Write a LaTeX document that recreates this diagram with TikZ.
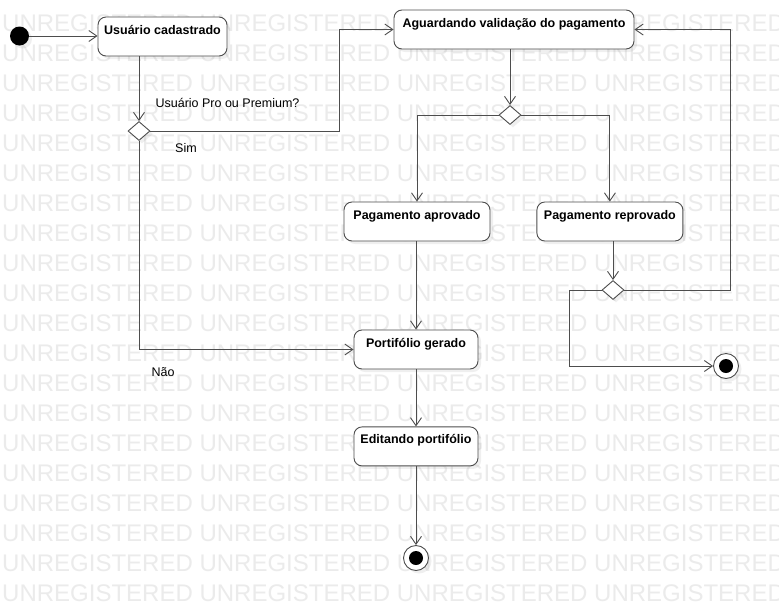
\documentclass[tikz,border=0pt]{standalone}
\usepackage{fontspec}
\setmainfont{Liberation Sans}
\usepackage{tikz}
\usetikzlibrary{arrows.meta,positioning,shapes.geometric,shadows}
\definecolor{lineclr}{HTML}{4D4D4D}
\definecolor{wmclr}{HTML}{EBEBEB}

\begin{document}
\begin{tikzpicture}[
    x=1pt, y=-1pt,
    node distance=46pt and 46pt,
    shade/.style={drop shadow={opacity=0.12, shadow xshift=3pt, shadow yshift=-3pt}},
    state/.style={draw=lineclr, line width=0.9pt, rounded corners=8pt, fill=white, shade,
        font=\fontsize{12.5}{15}\selectfont\bfseries, inner xsep=4pt, inner ysep=0pt,
        text height=17pt, text depth=22pt},
    choice/.style={diamond, draw=lineclr, line width=0.9pt, fill=white, shade,
        inner sep=0pt, minimum width=22pt, minimum height=19pt},
    initial/.style={circle, fill=black, inner sep=0pt, minimum size=19pt, shade},
    final/.style={circle, draw=lineclr, line width=0.9pt, fill=white, inner sep=0pt,
        minimum size=25pt, shade,
        path picture={\fill[black] (path picture bounding box.center) circle (7pt);}},
    arrow/.style={-{Straight Barb[length=8pt, width=11pt]}, draw=lineclr, line width=0.9pt},
    guard/.style={font=\fontsize{12.5}{15}\selectfont, inner sep=0pt},
    wm/.style={font=\fontsize{24}{24}\selectfont, text=wmclr, inner sep=0pt, anchor=base west},
]

\useasboundingbox (0,0) rectangle (779,611);
\fill[white] (0,0) rectangle (779,611);

% Watermark rows
\begin{scope}
\clip (0,0) rectangle (779,611);
\foreach \k in {0,...,19}
  \node[wm] (wm\k) at (2,31+30*\k) {UNREGISTERED UNREGISTERED UNREGISTERED UNREGISTERED};
\end{scope}

% Registration and plan check
\node[initial] (start) at (19.5,36) {};
\node[state, minimum width=129pt] (cadastro) at (162.5,36.5) {Usuário cadastrado};
\node[choice] (plano) at (139,131) {};

\draw[arrow] (start) -- (start -| cadastro.west);
\draw[arrow] (cadastro.south -| plano) -- (plano.north);

\node[guard] (pergunta) at (227.5,103) {Usuário Pro ou Premium?};
\node[guard] (sim) at (186,148) {Sim};
\node[guard] (nao) at (163,372) {Não};

% Payment validation
\node[state, minimum width=240pt] (aguardando) at (514,29.5) {Aguardando validação do pagamento};
\node[choice] (validacao) at (510,115) {};
\node[state, minimum width=146pt] (aprovado) at (417,221.5) {Pagamento aprovado};
\node[state, minimum width=146pt, right=46pt of aprovado] (reprovado) {Pagamento reprovado};
\node[choice] (retorno) at (613,290) {};
\node[final] (fim2) at (726,366) {};

\draw[arrow] (plano.east) -- ++(189,0) |- (aguardando.west);
\draw[arrow] (aguardando.south -| validacao) -- (validacao.north);
\draw[arrow] (validacao.west) -| (aprovado.north);
\draw[arrow] (validacao.east) -| (reprovado.north);
\draw[arrow] (reprovado.south -| retorno) -- (retorno.north);
\draw[arrow] (retorno.east) -- ++(106,0) |- (aguardando.east);
\draw[arrow] (retorno.west) -- ++(-32,0) |- (fim2);

% Portfolio
\node[state, minimum width=124pt] (gerado) at (416,349.5) {Portifólio gerado};
\node[state, minimum width=124pt, below=57pt of gerado] (editando) {Editando portifólio};
\node[final] (fim1) at (416,558) {};

\draw[arrow] (plano.south) |- (gerado.west);
\draw[arrow] (aprovado.south -| gerado.north) -- (gerado.north);
\draw[arrow] (gerado) -- (editando);
\draw[arrow] (editando) -- (fim1);

\end{tikzpicture}
\end{document}
